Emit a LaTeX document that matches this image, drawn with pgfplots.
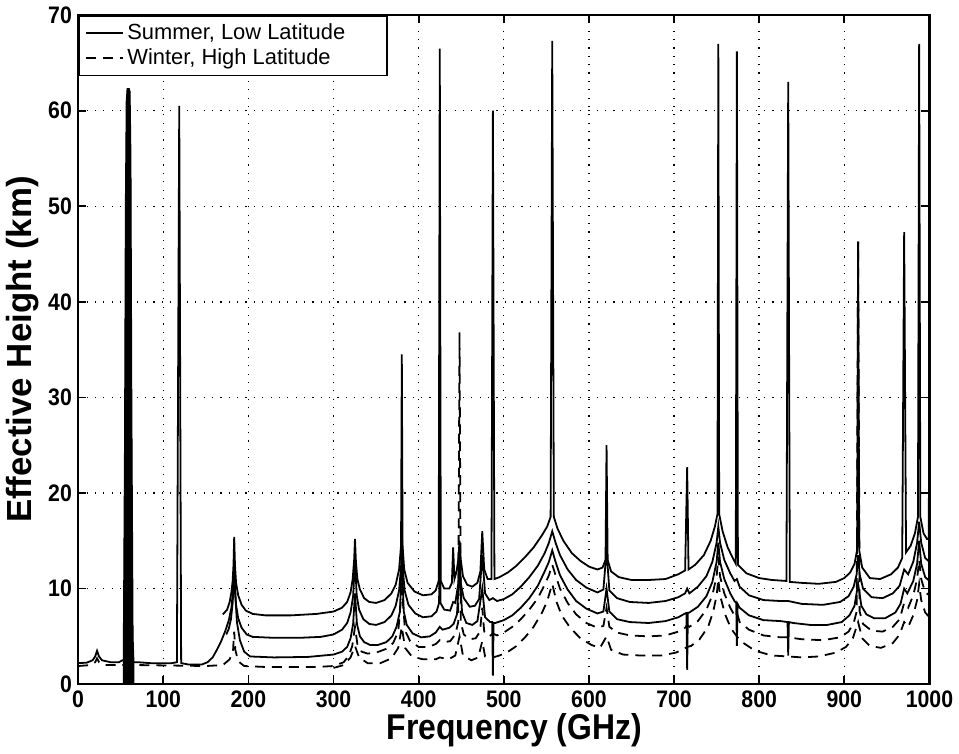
\documentclass[border=0pt]{standalone}
\usepackage{fontspec}
\setmainfont{Liberation Sans}
\usepackage{graphicx}
\usepackage{pgfplots}
\pgfplotsset{compat=1.18}
\begin{document}
\begin{tikzpicture}
\begin{axis}[
  scale only axis, width=427.5pt, height=336pt,
  xmin=0, xmax=1000, ymin=0, ymax=70,
  xtick={0,100,...,1000}, ytick={0,10,...,70},
  xtick pos=both, ytick pos=both,
  xticklabel pos=lower, yticklabel pos=left,
  tick align=inside, major tick length=4pt,
  every tick/.style={black, line width=0.9pt},
  axis line style={line width=1.1pt},
  grid=major,
  major grid style={black, line width=0.7pt, dash pattern=on 0.6pt off 3.6pt},
  /pgf/number format/assume math mode=true,
  /pgf/number format/1000 sep={},
  tick label style={font=\fontsize{12}{14}\selectfont\bfseries, xscale=0.89},
  xlabel={Frequency (GHz)}, ylabel={Effective Height (km)},
  xlabel style={font=\fontsize{18}{20}\selectfont\bfseries, xscale=0.89, yshift=4pt, xshift=6pt},
  ylabel style={font=\fontsize{17.5}{20}\selectfont\bfseries, yshift=-2pt},
  legend cell align=left,
  legend style={at={(0,1)}, anchor=north west, draw=black, line width=0.8pt,
    font=\fontsize{11}{12}\selectfont, inner xsep=3pt, inner ysep=2pt,
    row sep=-1pt},
  legend image code/.code={\draw[#1, line width=0.8pt] (4pt,0pt) -- (22.5pt,0pt);},
]
% Summer (solid) top
\addplot[black, line width=0.9pt] coordinates {
(170,7.3)(175,7.8)(178,8.6)(180,9.6)(181.5,10.8)(182.5,12.5)(183.3,15.4)(184.2,12.5)(185.5,10.6)(188,9.3)(192,8.3)(197,7.7)(205,7.35)(220,7.2)(250,7.2)(280,7.35)(300,7.6)(310,8.0)(316,8.6)(320,9.6)(322.5,11)(324.2,13)(325.2,15.2)(326.3,12.8)(328,11)(331,9.9)(336,9.0)(342,8.6)(350,8.5)(360,8.8)(368,9.5)(373,10.4)(377,12)(379.3,14.5)(380.2,34.5)(381.1,14.5)(383,12)(387,10.6)(395,9.7)(405,9.3)(415,9.4)(420,9.8)(423.5,10.8)(424.8,66.5)(426,10.8)(430,10.0)(436,10.0)(439,10.6)(440.5,14.3)(442,11.0)(444.5,11.8)(446.5,13)(448,15)(449.5,13)(452,11.3)(457,10.4)(463,10.2)(469,10.6)(472.5,11.8)(474.7,16)(477,12.0)(481,11.0)(485.5,11.0)(487.2,60)(489,11.0)(495,11.2)(505,11.7)(515,12.4)(525,13.3)(535,14.3)(545,15.6)(551,16.5)(555,17.5)(556.9,67.3)(558.8,17.5)(563,16.3)(570,15.0)(580,13.7)(590,12.9)(600,12.3)(610,12.0)(616,12.2)(619.5,13)(620.7,25)(622,13)(626,11.8)(635,11.2)(650,10.9)(670,10.9)(690,11.0)(705,11.5)(713,11.9)(715.4,22.7)(717,12.0)(725,12.5)(735,13.5)(743,15)(748,16.5)(751,17.8)(752,67)(753,17.8)(757,16)(763,14.3)(769,13.2)(772.5,12.6)(773.8,66.2)(775,12.5)(785,11.6)(800,11.1)(815,10.9)(832,10.8)(834.1,63)(836,10.7)(850,10.6)(870,10.5)(890,10.7)(900,11.1)(907,11.7)(912,12.6)(915,14)(916.2,46.3)(917.5,14)(921,12.2)(930,11.1)(942,11.0)(955,11.5)(963,12.2)(968,13.2)(970.3,47.3)(972.5,13.8)(978,14.5)(983,15.8)(986.5,17.5)(987.9,67)(989.3,17.5)(993,15.8)(997,15.2)(999.3,15.2)(999.8,60)(1000,60)
};
\addlegendentry{Summer, Low Latitude\kern16pt\mbox{}}
% Winter (dashed) upper
\addplot[black, line width=0.9pt, dash pattern=on 5pt off 3.5pt] coordinates {
(0,1.9)(15,2.0)(20,2.3)(22.2,2.7)(24.5,2.3)(30,2.0)(48,2.0)(70,2.0)(110,1.95)(150,1.9)(170,2.0)(178,2.6)(182,3.6)(183.3,5.5)(184.6,3.6)(188,2.4)(195,1.9)(220,1.8)(280,1.8)(300,1.9)(312,2.3)(318,3.0)(322,4.0)(325.2,6)(328,4.2)(333,3.4)(340,3.2)(350,3.3)(362,3.7)(370,4.3)(376,5.5)(380.2,10)(384,5.6)(390,4.5)(400,3.9)(412,3.9)(420,4.2)(424.8,4.6)(430,4.4)(437,4.5)(443,5.2)(446.5,6.5)(448,36.8)(449.5,6.5)(453,5.2)(460,4.7)(467,4.8)(472,5.5)(474.7,8)(477,5.5)(483,5.0)(487.2,5.3)(492,5.1)(500,5.4)(510,6.0)(520,6.8)(530,7.8)(540,9.0)(548,10.4)(553,11.4)(556.9,12.5)(560.8,11.4)(566,10.0)(575,8.5)(585,7.3)(597,6.4)(610,5.9)(617,6.1)(620.7,8)(624,6.0)(633,5.4)(648,5.1)(670,5.0)(690,5.1)(705,5.5)(713,5.9)(715.4,6.2)(718,6.0)(728,6.6)(738,7.8)(745,9.3)(750,11.3)(752,13.3)(754,11.3)(759,9.5)(766,8.0)(771,7.2)(773.8,7.5)(777,6.5)(788,5.7)(805,5.1)(825,4.9)(834.1,4.9)(850,4.7)(875,4.6)(895,4.9)(905,5.5)(911,6.4)(914.5,7.6)(916.2,46.3)(918,7.6)(922,6.3)(932,5.6)(945,5.5)(957,6.0)(965,6.8)(970.3,8.5)(975,8.0)(981,9.3)(985.5,11)(987.9,13)(990.3,11)(995,9.6)(1000,9.3)
};
\addlegendentry{Winter, High Latitude}
% Summer middle
\addplot[black, line width=0.9pt, forget plot] coordinates {
(174,5.2)(177,5.8)(179.5,6.8)(181.5,8.5)(182.7,10.5)(183.3,13)(184,10.5)(185.5,8.3)(188,6.9)(192,5.9)(198,5.2)(205,4.95)(230,4.85)(260,4.85)(285,4.95)(300,5.2)(310,5.7)(316,6.4)(320,7.5)(323,9.2)(325.2,13)(327.2,9.3)(330,7.8)(335,6.8)(342,6.3)(350,6.2)(360,6.5)(368,7.2)(373,8.2)(377,9.8)(379.5,12.5)(380.2,17)(381,12.5)(383.5,9.8)(388,8.3)(396,7.4)(405,7.0)(415,7.1)(421,7.6)(424,8.5)(424.8,20)(425.6,8.5)(430,7.8)(437,7.7)(440.5,8.6)(443,8.5)(446.5,10.5)(448,14)(449.5,10.5)(453,9.0)(460,8.1)(466,8.2)(471,8.9)(474.7,13.5)(478,9.5)(483,8.8)(487.2,9.0)(492,8.7)(500,8.9)(510,9.4)(520,10.2)(530,11.2)(540,12.4)(548,13.7)(553,14.8)(556.9,16.0)(560.8,14.8)(566,13.5)(575,12.0)(585,10.9)(597,10.1)(610,9.6)(617,9.9)(620.7,14)(624,9.8)(633,9.0)(648,8.6)(670,8.5)(690,8.7)(705,9.1)(713,9.5)(715.4,10)(718,9.5)(728,10.2)(738,11.3)(745,12.8)(750,14.8)(752,16.5)(754,14.8)(759,13.0)(766,11.6)(771,10.8)(773.8,11)(777,10.2)(788,9.3)(805,8.8)(825,8.7)(834.1,8.7)(850,8.4)(875,8.3)(895,8.6)(905,9.2)(911,10.2)(914.5,11.5)(916.2,13.5)(918,11.5)(922,10.0)(932,9.1)(945,9.0)(957,9.5)(965,10.3)(970.3,12)(975,11.5)(981,12.8)(985.5,14.8)(987.9,17)(990.3,14.8)(995,13.2)(1000,12.8)
};
% Summer bottom
\addplot[black, line width=0.9pt, forget plot] coordinates {
(0,2.2)(10,2.25)(17,2.5)(20,2.9)(22.2,3.5)(24.5,2.9)(28,2.5)(38,2.3)(48,2.3)(52,2.5)(66,2.3)(70,2.3)(85,2.2)(110,2.2)(116,2.3)(118.75,60.5)(121,2.2)(130,2.05)(145,2.05)(152,2.3)(158,2.8)(163,3.6)(168,4.5)(173,5.6)(177,6.7)(180,8)(182,9.8)(183.3,11.5)(184.6,9.3)(186.5,6.5)(190,4.6)(195,3.4)(202,2.9)(230,2.8)(270,2.85)(300,3.1)(310,3.4)(316,3.9)(320,4.8)(323,6.3)(325.2,9.5)(327.5,6.3)(331,5.0)(336,4.4)(343,4.1)(352,4.1)(362,4.4)(369,5.0)(374,6.0)(378,7.6)(380.2,13)(382.5,7.6)(386,6.2)(393,5.3)(403,4.9)(413,5.0)(420,5.4)(424.8,6.0)(428,5.7)(436,5.9)(441,6.3)(445,7.3)(448,12)(451,7.5)(456,6.4)(463,6.2)(469,6.6)(474.7,10)(478,7.0)(484,6.5)(486.4,6.5)(487.2,0.9)(488,6.4)(490,6.4)(500,6.7)(510,7.2)(520,8.0)(530,9.0)(540,10.3)(548,11.8)(553,12.8)(556.9,14.0)(560.8,12.8)(566,11.4)(575,9.9)(585,8.7)(597,7.9)(610,7.4)(617,7.6)(620.7,10)(624,7.6)(633,6.8)(648,6.5)(670,6.4)(690,6.6)(705,7.0)(713,7.4)(714.6,7.45)(715.4,1.5)(716.2,7.45)(718,7.5)(728,8.1)(738,9.2)(745,10.7)(750,12.8)(752,14.8)(754,12.8)(759,11.0)(766,9.5)(771,8.7)(773,8.5)(773.8,4)(774.6,8.4)(777,8.0)(788,7.2)(805,6.7)(825,6.6)(833.3,6.5)(834.1,3.0)(834.9,6.5)(840,6.4)(860,6.2)(880,6.2)(897,6.5)(906,7.2)(912,8.2)(916.2,10.5)(920,8.2)(926,7.3)(935,6.9)(948,6.9)(960,7.5)(966,8.4)(970.3,10)(974,9.5)(981,10.8)(985.5,12.6)(987.9,15)(990.3,12.6)(995,11.2)(1000,10.8)
};
% Winter lower
\addplot[black, line width=0.9pt, dash pattern=on 5pt off 3.5pt, forget plot] coordinates {
(300,1.7)(312,2.0)(320,2.8)(325.2,4)(330,2.8)(340,2.2)(355,2.2)(368,2.7)(376,3.8)(380.2,6)(384,3.8)(392,2.9)(405,2.6)(420,2.6)(424.8,2.8)(435,2.6)(443,3.0)(448,5)(452,3.0)(462,2.5)(470,2.8)(474.7,4.5)(478,2.9)(487.2,2.8)(495,3.0)(505,3.4)(515,4.0)(525,4.9)(535,6.0)(545,7.5)(551,8.7)(556.9,10.5)(562,8.6)(568,7.2)(578,5.9)(590,4.8)(603,4.1)(613,3.8)(620.7,5)(626,3.6)(640,3.1)(660,3.0)(685,3.0)(702,3.3)(712,3.7)(715.4,3.9)(720,4.0)(730,4.7)(740,6.0)(746,7.6)(750,9.3)(752,11)(754,9.3)(760,7.3)(767,5.8)(773.8,5)(780,4.4)(795,3.5)(815,3.0)(834,2.9)(850,2.8)(870,2.9)(890,3.3)(902,3.9)(910,4.8)(916.2,6.5)(921,4.8)(930,4.0)(943,3.8)(957,4.3)(965,5.2)(970.3,6.5)(975,6.0)(981,7.2)(985.5,8.8)(987.9,10.5)(990.3,8.8)(995,7.5)(1000,7.0)
};
% O2 60 GHz band
\addplot[black, fill=black, line width=0.5pt, forget plot] coordinates {
(53,2.4)(54.5,25)(55.5,50)(56.5,61)(57.5,62.3)(60,62.3)(61,62)(62,55)(63,30)(64.5,5)(65.5,2.3)
} \closedcycle;
\end{axis}
\end{tikzpicture}
\end{document}
